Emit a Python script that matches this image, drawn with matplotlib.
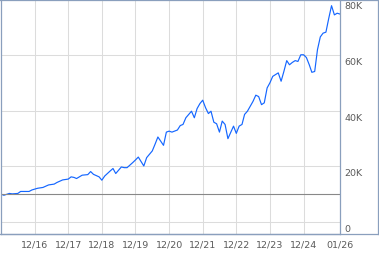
import matplotlib
matplotlib.use('Agg')
import matplotlib.pyplot as plt
from matplotlib.lines import Line2D
import pandas as pd

# monthly values (in thousands)
months = ['2015-12', '2016-01', '2016-03', '2016-04', '2016-06', '2016-07', '2016-10', '2016-11',
          '2017-01', '2017-03', '2017-05', '2017-07', '2017-08', '2017-10', '2017-12',
          '2018-01', '2018-02', '2018-03', '2018-05', '2018-07', '2018-08', '2018-09', '2018-11', '2018-12',
          '2019-01', '2019-03', '2019-04', '2019-05', '2019-07', '2019-08', '2019-09', '2019-11', '2019-12',
          '2020-01', '2020-03', '2020-04', '2020-06', '2020-07', '2020-08', '2020-10', '2020-11', '2020-12',
          '2021-01', '2021-03', '2021-04', '2021-05', '2021-06', '2021-08', '2021-09', '2021-10', '2021-11', '2021-12',
          '2022-01', '2022-02', '2022-03', '2022-04', '2022-05', '2022-06', '2022-07', '2022-08', '2022-09',
          '2022-11', '2022-12',
          '2023-01', '2023-02', '2023-03', '2023-04', '2023-06', '2023-07', '2023-08', '2023-09', '2023-10',
          '2023-11', '2023-12',
          '2024-01', '2024-03', '2024-04', '2024-05', '2024-06', '2024-07', '2024-08', '2024-09', '2024-10',
          '2024-11', '2024-12',
          '2025-01', '2025-02', '2025-03', '2025-04', '2025-05', '2025-06', '2025-07', '2025-08', '2025-09',
          '2025-10', '2025-11', '2025-12', '2026-01']
values_k = [10.0, 9.6, 10.25, 10.1, 10.25, 10.96, 10.96, 11.5,
            12.1, 12.4, 13.3, 13.6, 14.2, 15.1, 15.4,
            16.2, 16.0, 15.6, 16.8, 17.0, 18.1, 17.1, 16.2, 15.0,
            16.5, 18.3, 19.2, 17.4, 19.75, 19.5, 19.5, 21.3, 22.25,
            23.3, 20.1, 23.1, 25.5, 27.9, 30.5, 27.5, 32.25, 32.6,
            32.25, 33.0, 34.6, 35.0, 37.4, 39.75, 37.4, 40.7, 42.5, 43.7,
            41.0, 38.9, 39.75, 35.8, 35.25, 32.25, 36.2, 35.0, 29.9,
            34.4, 31.8,
            34.4, 35.0, 38.6, 39.75, 43.3, 45.5, 45.0, 42.1, 42.75,
            48.1, 49.9,
            52.25, 53.5, 50.5, 54.0, 57.9, 56.4, 57.25, 57.9, 57.6,
            60.0, 60.0,
            59.0, 56.4, 53.7, 54.0, 61.8, 66.4, 67.75, 68.1, 73.1,
            77.6, 74.3, 74.9, 74.6]

tick_years = [2016, 2017, 2018, 2019, 2020, 2021, 2022, 2023, 2024]
y_ticks = [0, 20000, 40000, 60000, 80000]
y_labels = ['0', '20K', '40K', '60K', '80K']
baseline = 10000

border = '#8a9fbd'
grid = '#dcdcdc'
text_col = '#5a5a5a'

dates = pd.to_datetime(months)
vals = [v * 1000 for v in values_k]

fig = plt.figure(figsize=(3.79, 2.55), dpi=100)
ax = fig.add_axes([1 / 379, 20 / 255, 339 / 379, 235 / 255])

ax.plot(dates, vals, color='#1466ff', lw=0.85)
ax.axhline(baseline, color='#888888', lw=0.8)

ax.set_xlim(pd.Timestamp('2015-12-01'), pd.Timestamp('2026-01-01'))
ax.set_ylim(-4300, 80000)

# vertical grid at each December, plus a right-edge label for 01/26
xt = [pd.Timestamp(f'{y}-12-01') for y in tick_years] + [pd.Timestamp('2026-01-01')]
ax.set_xticks(xt)
ax.set_xticklabels([d.strftime('%m/%y') for d in xt])
for d in xt[:-1]:
    ax.axvline(d, color=grid, lw=0.75, zorder=0)
for v in y_ticks[:-1]:
    ax.axhline(v, color=grid, lw=0.75, zorder=0)

ax.set_yticks([])
ax.tick_params(axis='x', length=0, pad=4, labelsize=6.8, labelcolor=text_col)

# y labels sit right of the plot, just below each gridline
for v, lab in zip(y_ticks, y_labels):
    ax.annotate(lab, xy=(1, v), xycoords=('axes fraction', 'data'),
                xytext=(3, -1.5), textcoords='offset points',
                ha='left', va='top', fontsize=6.8, color=text_col)

for s in ax.spines.values():
    s.set_color(border)
    s.set_linewidth(0.9)

# outer frame around plot + label column
fig.add_artist(Line2D([0, 377.5 / 379], [20 / 255, 20 / 255], color=border, lw=0.9, transform=fig.transFigure))
fig.add_artist(Line2D([377.5 / 379, 377.5 / 379], [20 / 255, 1], color=border, lw=0.9, transform=fig.transFigure))
fig.add_artist(Line2D([0, 377.5 / 379], [254.5 / 255, 254.5 / 255], color=border, lw=0.9, transform=fig.transFigure))

fig.savefig('out.png', dpi=100)
